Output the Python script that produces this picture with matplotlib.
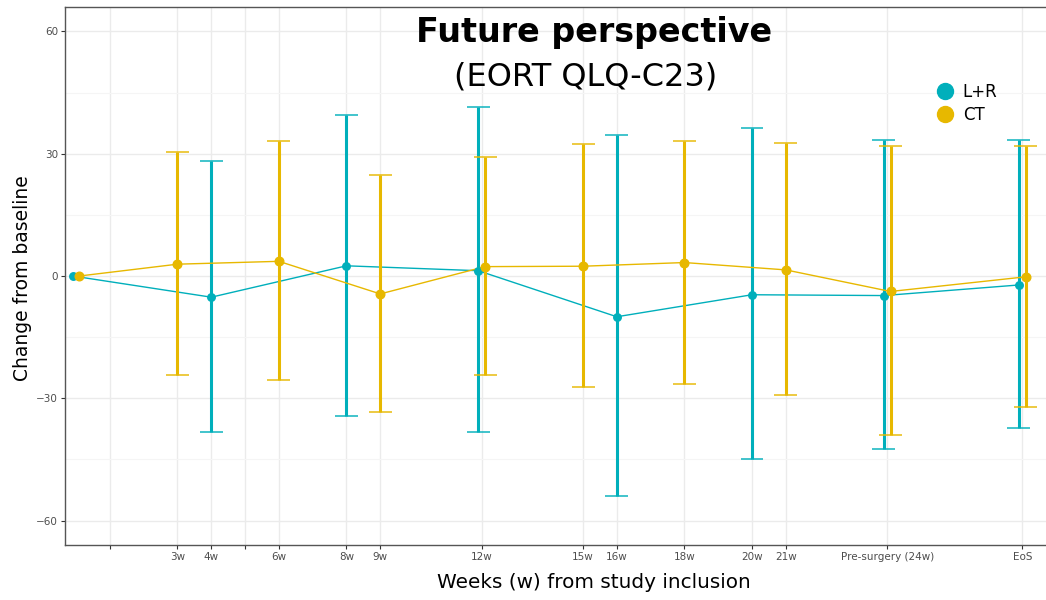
import matplotlib
matplotlib.use("Agg")
import matplotlib.pyplot as plt
import numpy as np
from matplotlib.lines import Line2D

plt.rcParams['font.family'] = ['DejaVu Sans']

# ---- data ----
tick_pos = [1, 3, 4, 5, 6, 8, 9, 12, 15, 16, 18, 20, 21, 24, 28]
tick_labels = ["", "3w", "4w", "", "6w", "8w", "9w", "12w", "15w", "16w",
               "18w", "20w", "21w", "Pre-surgery (24w)", "EoS"]

lr_weeks = [0, 4, 8, 12, 16, 20, 24, 28]
lr_mean = [0.0, -5.2, 2.5, 1.3, -10.0, -4.6, -4.8, -2.2]
lr_low = [0.0, -38.4, -34.3, -38.4, -53.9, -45.0, -42.4, -37.2]
lr_high = [0.0, 28.2, 39.6, 41.4, 34.5, 36.2, 33.3, 33.3]

ct_weeks = [0, 3, 6, 9, 12, 15, 18, 21, 24, 28]
ct_mean = [0.0, 2.9, 3.6, -4.4, 2.3, 2.4, 3.3, 1.5, -3.8, -0.2]
ct_low = [0.0, -24.2, -25.5, -33.3, -24.4, -27.2, -26.5, -29.1, -39.0, -32.2]
ct_high = [0.0, 30.4, 33.1, 24.9, 29.3, 32.4, 33.2, 32.7, 31.8, 31.8]

c_lr = "#00AFBB"
c_ct = "#E7B800"

shared = set(lr_weeks) & set(ct_weeks)
dodge = 0.1

def dodged(weeks, sign):
    return np.array([w + sign * dodge if w in shared else w for w in weeks], float)

fig = plt.figure(figsize=(10.46, 6.0), dpi=100)
ax = fig.add_axes([0.0621, 0.0917, 0.9379, 0.8966])

for weeks, mean, low, high, col, sign, ms in [
        (lr_weeks, lr_mean, lr_low, lr_high, c_lr, -1, 5.4),
        (ct_weeks, ct_mean, ct_low, ct_high, c_ct, 1, 6.2)]:
    x = dodged(weeks, sign)
    mean = np.array(mean); low = np.array(low); high = np.array(high)
    ax.plot(x, mean, color=col, lw=1.0, zorder=3)
    nz = (high - low) > 0
    ax.vlines(x[nz], low[nz], high[nz], color=col, lw=2.2, zorder=3)
    ax.hlines(low[nz], x[nz] - 0.34, x[nz] + 0.34, color=col, lw=1.3, zorder=3, alpha=0.8)
    ax.hlines(high[nz], x[nz] - 0.34, x[nz] + 0.34, color=col, lw=1.3, zorder=3, alpha=0.8)
    ax.plot(x, mean, 'o', color=col, ms=ms, zorder=4, lw=0)

ax.set_xlim(-0.33, 28.7)
ax.set_ylim(-66, 66)
ax.set_xticks(tick_pos)
ax.set_xticklabels(tick_labels)
ax.set_yticks([-60, -30, 0, 30, 60])
ax.set_yticklabels(["\u221260", "\u221230", "0", "30", "60"])
ax.set_yticks([-45, -15, 15, 45], minor=True)
ax.tick_params(axis='both', labelsize=7.5, labelcolor='#4d4d4d', color='#333333',
               length=3, width=0.8, pad=2)
ax.tick_params(axis='y', which='minor', length=0)
ax.grid(True, which='major', color='#ebebeb', lw=1.0)
ax.grid(True, which='minor', axis='y', color='#f5f5f5', lw=0.8)
ax.set_axisbelow(True)
for s in ['left', 'bottom', 'top']:
    ax.spines[s].set_color('#555555')
    ax.spines[s].set_linewidth(1.0)
ax.spines['right'].set_visible(False)

fig.text(0.0215, 0.536, "Change from baseline", rotation=90, fontsize=13.5,
         ha='center', va='center')
fig.text(0.568, 0.030, "Weeks (w) from study inclusion", fontsize=14.4,
         ha='center', va='center')

fig.text(0.568, 0.946, "Future perspective", fontsize=24, fontweight='bold',
         ha='center', va='center')
fig.text(0.560, 0.871, "(EORT QLQ-C23)", fontsize=23, ha='center', va='center')

handles = [Line2D([], [], marker='o', color=c_lr, lw=0, ms=11.5),
           Line2D([], [], marker='o', color=c_ct, lw=0, ms=11.5)]
leg = ax.legend(handles, ["L+R", "CT"], loc='upper left', bbox_to_anchor=(0.882, 0.872),
                frameon=False, fontsize=12, handletextpad=0.55, labelspacing=0.3,
                handlelength=1.0, borderaxespad=0)

fig.savefig("out.png", dpi=100)
